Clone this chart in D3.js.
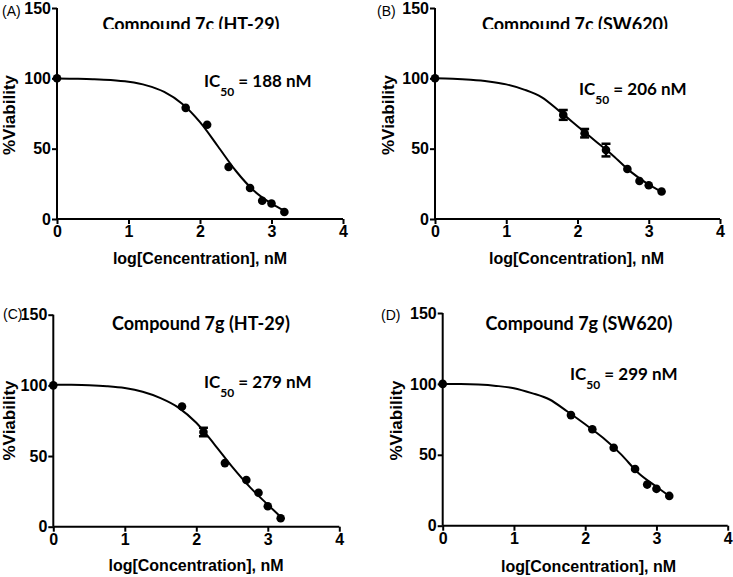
<!DOCTYPE html>
<html><head><meta charset="utf-8">
<script src="https://cdn.jsdelivr.net/npm/d3@7"></script>
<style>body{margin:0;background:#fff}svg{display:block}</style>
</head><body>
<svg id="chart" width="733" height="577"></svg>
<script>
// ---- data ----
const xTicks = [0, 1, 2, 3, 4];
const yTicks = [0, 50, 100, 150];
const panelTags = ["(A)", "(B)", "(C)", "(D)"];
const titles = ["Compound 7c (HT-29)", "Compound 7c (SW620)", "Compound 7g (HT-29)", "Compound 7g (SW620)"];
const ic50Values = ["188", "206", "279", "299"];
const xTitles = ["log[Cencentration], nM", "log[Concentration], nM", "log[Concentration], nM", "log[Concentration], nM"];
const yTitle = "%Viability";

const logConc = [0, 1.8, 2.1, 2.4, 2.7, 2.87, 3.0, 3.18];
const viabilityA = [100, 79, 67, 37, 22, 13, 11, 5];
const viabilityB = [100, 74, 61, 49, 35.5, 27, 24, 19.5];
const viabilityC = [100, 85, 67, 45, 33, 24, 14.5, 6];
const viabilityD = [100, 78, 68, 55, 40, 29, 26, 21];
const errorA = [0, 0, 0, 0, 0, 0, 0, 0];
const errorB = [0, 3.5, 3, 4.5, 0, 0, 0, 0];
const errorC = [0, 0, 3, 0, 0, 0, 0, 0];
const errorD = [0, 0, 0, 0, 0, 0, 0, 0];

const fitX = [0, 0.25, 0.5, 0.75, 1, 1.25, 1.5, 1.75, 2, 2.25, 2.5, 2.75, 3, 3.18];
const fitA = [99.9, 99.7, 99.4, 98.8, 97.5, 95.0, 90.3, 81.9, 68.8, 51.7, 34.3, 20.3, 11.0, 6];
const fitB = [100, 99.7, 99, 97.8, 95.7, 92, 86.5, 76.5, 66, 55.5, 45, 33.5, 24.5, 19.5];
const fitC = [100.5, 100.4, 100.1, 99.4, 98.1, 95.5, 91, 84.3, 73.5, 58.5, 42.5, 28, 15.6, 7];
const fitD = [100, 99.9, 99.5, 98.6, 97, 93.5, 89, 80.5, 71.5, 62, 50.5, 37, 27.5, 21];

const viabilities = [viabilityA, viabilityB, viabilityC, viabilityD];
const errors = [errorA, errorB, errorC, errorD];
const fits = [fitA, fitB, fitC, fitD];

// ---- layout ----
const layout = [
  {x0: 57, x1: 343, y0: 219, y1: 8, tag: [2, 15.5], title: [191, 31.3], clip: 29, ic: [204, 86.7], xl: [200, 263.5], yl: [14.5, 115]},
  {x0: 435, x1: 720, y0: 219, y1: 8, tag: [377, 15.5], title: [575, 31.3], clip: 29, ic: [579, 95], xl: [576.5, 263.5], yl: [393.5, 115]},
  {x0: 53.3, x1: 339.3, y0: 526.7, y1: 314.7, tag: [3, 319], title: [201, 329.7], clip: null, ic: [204, 387.5], xl: [196, 571], yl: [15, 420.5]},
  {x0: 442.7, x1: 727.7, y0: 525.7, y1: 313, tag: [381, 320], title: [579, 329.7], clip: null, ic: [570, 380], xl: [588.5, 571.5], yl: [402, 420.5]}
];

const svg = d3.select("#chart");
const ARIAL = "'Liberation Sans', Arial, sans-serif";
const TITLEF = "Lato, 'Open Sans', sans-serif";

layout.forEach((L, i) => {
  const x = d3.scaleLinear().domain([0, 4]).range([L.x0, L.x1]);
  const y = d3.scaleLinear().domain([0, 150]).range([L.y0, L.y1]);
  const g = svg.append("g");

  // axes
  const xAxis = d3.axisBottom(x).tickValues(xTicks).tickSize(5).tickPadding(2).tickFormat(d3.format("d"));
  const yAxis = d3.axisLeft(y).tickValues(yTicks).tickSize(5).tickPadding(1).tickFormat(d3.format("d"));
  const gx = g.append("g").attr("transform", `translate(0,${L.y0})`).call(xAxis);
  const gy = g.append("g").attr("transform", `translate(${L.x0},0)`).call(yAxis);
  [gx, gy].forEach(a => {
    a.select(".domain").attr("stroke", "#000").attr("stroke-width", 2);
    a.selectAll(".tick line").attr("stroke", "#000").attr("stroke-width", 2);
    a.selectAll(".tick text").attr("fill", "#000").attr("font-family", ARIAL)
      .attr("font-weight", "bold").attr("font-size", 16);
  });
  gx.select(".domain").attr("d", `M${L.x0},0H${L.x1}`);
  gy.select(".domain").attr("d", `M0,${L.y0}V${L.y1}`);

  // fitted curve
  const line = d3.line().x(d => x(d[0])).y(d => y(d[1])).curve(d3.curveMonotoneX);
  g.append("path").datum(fitX.map((v, k) => [v, fits[i][k]]))
    .attr("d", line).attr("fill", "none").attr("stroke", "#000").attr("stroke-width", 2);

  // error bars
  const pts = logConc.map((v, k) => ({x: v, y: viabilities[i][k], e: errors[i][k]}));
  pts.filter(p => p.e > 0).forEach(p => {
    const cx = x(p.x), ya = y(p.y + p.e), yb = y(p.y - p.e);
    g.append("line").attr("x1", cx).attr("x2", cx).attr("y1", ya).attr("y2", yb).attr("stroke", "#000").attr("stroke-width", 2.5);
    [ya, yb].forEach(yy => g.append("line").attr("x1", cx - 4.5).attr("x2", cx + 4.5).attr("y1", yy).attr("y2", yy).attr("stroke", "#000").attr("stroke-width", 2.5));
  });

  // points
  g.selectAll("circle.pt").data(pts).enter().append("circle")
    .attr("cx", d => x(d.x)).attr("cy", d => y(d.y)).attr("r", 4.3).attr("fill", "#000");

  // panel tag
  g.append("text").attr("x", L.tag[0]).attr("y", L.tag[1]).text(panelTags[i])
    .attr("font-family", ARIAL).attr("font-size", 14).attr("fill", "#000");

  // title (top row titles are cut at the bottom in the original)
  let tg = g;
  if (L.clip !== null) {
    const cid = "clip" + i;
    svg.append("clipPath").attr("id", cid).append("rect").attr("x", L.title[0] - 150).attr("y", 0).attr("width", 300).attr("height", L.clip);
    tg = g.append("g").attr("clip-path", `url(#${cid})`);
  }
  tg.append("text").attr("x", L.title[0]).attr("y", L.title[1]).attr("text-anchor", "middle")
    .attr("font-family", TITLEF).attr("font-weight", "bold").attr("font-size", 18).attr("fill", "#000").text(titles[i]);

  // IC50 annotation
  const ic = g.append("text").attr("x", L.ic[0]).attr("y", L.ic[1])
    .attr("font-family", TITLEF).attr("font-weight", "bold").attr("font-size", 17).attr("fill", "#000");
  ic.append("tspan").text("IC");
  ic.append("tspan").attr("font-size", 12).attr("dy", 9).text("50");
  ic.append("tspan").attr("dy", -9).text(" = " + ic50Values[i] + " nM");

  // axis titles
  g.append("text").attr("x", L.xl[0]).attr("y", L.xl[1]).attr("text-anchor", "middle")
    .attr("font-family", ARIAL).attr("font-weight", "bold").attr("font-size", 16).attr("fill", "#000").text(xTitles[i]);
  g.append("text").attr("transform", `translate(${L.yl[0]},${L.yl[1]}) rotate(-90)`).attr("text-anchor", "middle")
    .attr("font-family", ARIAL).attr("font-weight", "bold").attr("font-size", 17).attr("fill", "#000").text(yTitle);
});
</script>
</body></html>
